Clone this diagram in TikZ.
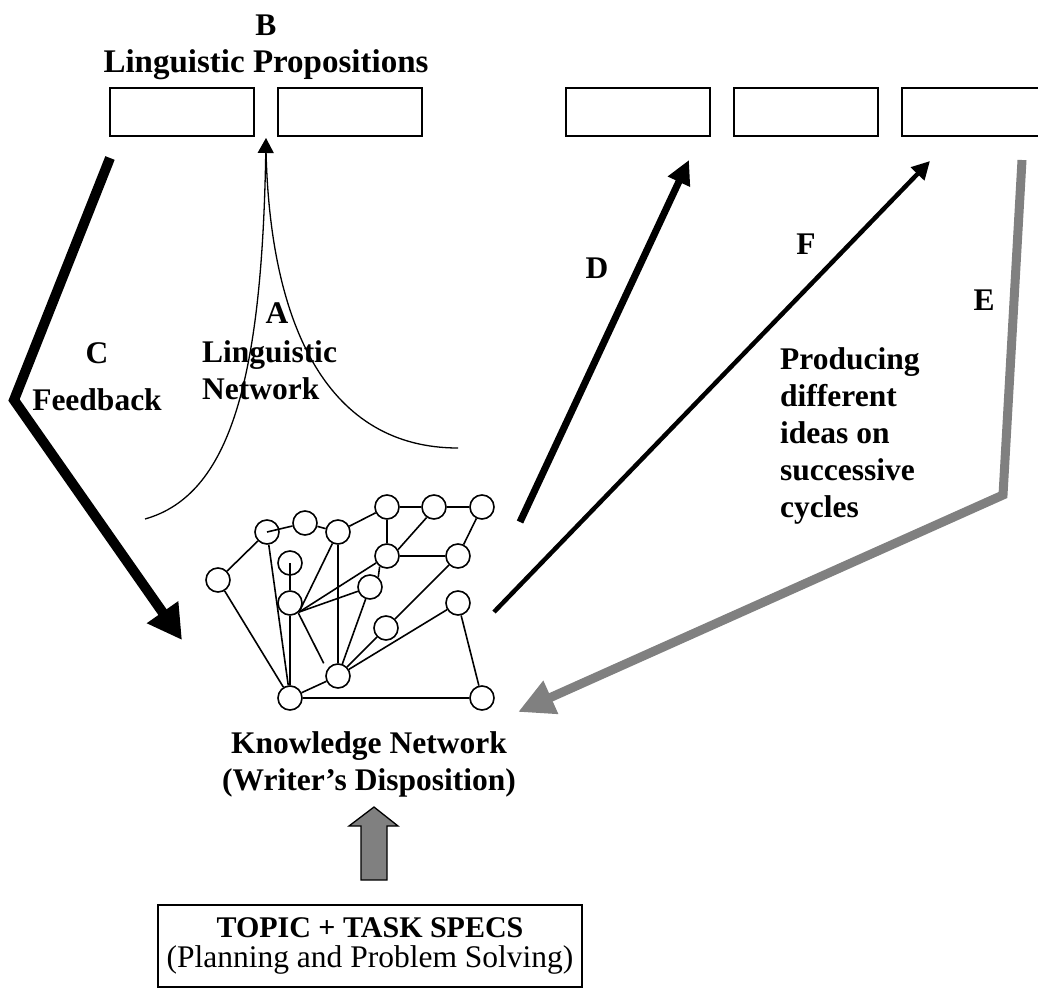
\documentclass[tikz,border=0pt]{standalone}
\usepackage{fontspec}
\setmainfont{Liberation Serif}
\usetikzlibrary{arrows.meta}
\definecolor{arrgray}{HTML}{808080}
\begin{document}
\begin{tikzpicture}[x=1pt,y=-1pt,
  lbl/.style={font=\fontsize{31.5}{37}\selectfont\bfseries, inner sep=0pt},
  propbox/.style={draw, line width=2pt, minimum width=144pt, minimum height=48pt, inner sep=0pt},
  kn/.style={circle, draw, fill=white, line width=1.6pt, minimum size=24pt, inner sep=0pt},
  kedge/.style={line width=1.6pt},
  thin arrow/.style={line width=1.3pt},
  feedback/.style={line width=10pt, -{Triangle[length=34pt,width=36pt]}},
  darrow/.style={line width=7pt, -{Triangle[length=24pt,width=23pt]}},
  farrow/.style={line width=4.5pt, -{Triangle[length=18pt,width=18pt]}},
  earrow/.style={draw=arrgray, line width=9pt, -{Triangle[length=36pt,width=34pt]}},
]
\useasboundingbox (0,0) rectangle (1038,998);

% linguistic proposition boxes
\node[propbox] (b1) at (182,112) {};
\node[propbox] (b2) at (350,112) {};
\node[propbox] (b3) at (638,112) {};
\node[propbox] (b4) at (806,112) {};
\node[propbox] (b5) at (974,112) {};

% labels (base anchor of a multi-line node = baseline of its last line)
\node[lbl, anchor=base] (Blbl) at (266,36) {B};
\node[lbl, anchor=base, font=\fontsize{33}{37}\selectfont\bfseries] (LPlbl) at (266,72) {Linguistic Propositions};
\node[lbl, anchor=base] (Albl) at (277,323) {A};
\node[lbl, align=left, anchor=base west] (LNlbl) at (202,399) {Linguistic\\Network};
\node[lbl, align=center, anchor=base] (Clbl) at (97,410) {C\\[10pt]Feedback};
\node[lbl, anchor=base] (Dlbl) at (597,278) {D};
\node[lbl, anchor=base] (Flbl) at (806,254) {F};
\node[lbl, anchor=base] (Elbl) at (984,310) {E};
\node[lbl, align=left, anchor=base west] (Plbl) at (780,517) {Producing\\different\\ideas on\\successive\\cycles};
\node[lbl, align=center, anchor=base] (KNlbl) at (369,790) {Knowledge Network\\ (Writer’s Disposition)};

% topic box
\node[draw, line width=1.5pt, minimum width=424pt, minimum height=82pt, align=center,
      font=\fontsize{31.5}{37}\selectfont] (topic) at (370,946)
      {{\fontsize{30}{37}\selectfont\bfseries TOPIC + TASK SPECS}\\[-7pt](Planning and Problem Solving)};

% grey up arrow
\draw[fill=arrgray, line width=1.3pt, line join=miter]
  (361,880) -- (361,826) -- (349,826) -- (374,807) -- (398,826) -- (387,826) -- (387,880) -- cycle;

% knowledge network nodes
\node[kn] (n1) at (267,532) {};
\node[kn] (n2) at (305,523) {};
\node[kn] (n3) at (338,532) {};
\node[kn] (n4) at (387,507) {};
\node[kn] (n5) at (434,507) {};
\node[kn] (n6) at (482,507) {};
\node[kn] (n7) at (387,556) {};
\node[kn] (n8) at (458,556) {};
\node[kn] (n9) at (290,563) {};
\node[kn] (n10) at (218,580) {};
\node[kn] (n11) at (370,587) {};
\node[kn] (n12) at (290,603) {};
\node[kn] (n13) at (458,603) {};
\node[kn] (n14) at (386,628) {};
\node[kn] (n15) at (338,676) {};
\node[kn] (n16) at (290,698) {};
\node[kn] (n17) at (482,698) {};

% edges
\draw[kedge] (n2) -- (n3);
\draw[kedge] (n3) -- (n4);
\draw[kedge] (n4) -- (n5);
\draw[kedge] (n5) -- (n6);
\draw[kedge] (n4) -- (n7);
\draw[kedge] (n7) -- (n8);
\draw[kedge] (n6) -- (n8);
\draw[kedge] (n5.-125) -- (n7.30);
\draw[kedge] (n7.-125) -- (n11.50);
\draw[kedge] (n10) -- (n1);
\draw[kedge] (n10) -- (n16);
\draw[kedge] (n1) -- (n16);
\draw[kedge] (n12) -- (n16);
\draw[kedge] (n12.-45) -- (n3);
\draw[kedge] (n12.-45) -- (n7);
\draw[kedge] (n12.-45) -- (n11);
\draw[kedge, shorten >=7pt] (n12.-50) -- (n15.150);
\draw[kedge] (n3) -- (n15);
\draw[kedge] (n11) -- (n15);
\draw[kedge] (n14) -- (n15);
\draw[kedge] (n13) -- (n15);
\draw[kedge] (n8) -- (n14);
\draw[kedge] (n13) -- (n17);
\draw[kedge] (n16) -- (n17);
\draw[kedge] (n16) -- (n15);
\draw[kedge] (n1.center) -- (n2);
\draw[kedge] (n9.center) -- (n12);

% curve A (linguistic network)
\coordinate (aL) at (145,519);
\coordinate (aT) at (266,138);
\coordinate (aT2) at (266,150);
\coordinate (aR) at (458,448);
\draw[thin arrow, -{Triangle[length=15pt,width=16pt]}] (aL) .. controls (230,495) and (262,380) .. (aT);
\draw[thin arrow] (aT2) .. controls (270,330) and (330,448) .. (aR);

% arrow C (feedback)
\coordinate (cS) at (110,158);
\coordinate (cM) at (14,400);
\coordinate (cE) at (182,640);
\draw[feedback] (cS) -- (cM) -- (cE);

% arrow D
\coordinate (dS) at (520,522);
\coordinate (dE) at (689,160);
\draw[darrow] (dS) -- (dE);

% arrow F
\coordinate (fS) at (494,612);
\coordinate (fE) at (930,161);
\draw[farrow] (fS) -- (fE);

% arrow E
\coordinate (eS) at (1022,160);
\coordinate (eM) at (1003,495);
\coordinate (eE) at (518,712);
\draw[earrow] (eS) -- (eM) -- (eE);
\end{tikzpicture}
\end{document}
